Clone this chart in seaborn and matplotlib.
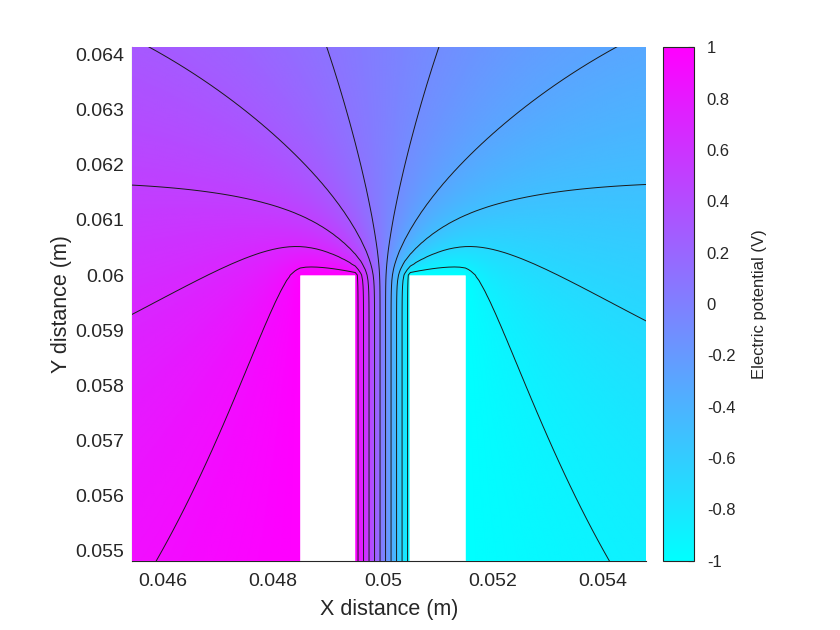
import numpy as np
import matplotlib
matplotlib.use("Agg")
import matplotlib.pyplot as plt
import seaborn as sns

# ---- data: electrode geometry, boundary values, contour levels, ticks ----
left_electrode_x = [0.0485, 0.0495]     # m, held at +1 V
right_electrode_x = [0.0505, 0.0515]    # m, held at -1 V
electrode_top_y = 0.060
electrode_voltages = [1.0, -1.0]
domain_x = [0.038, 0.062]               # side walls insulated
domain_y = [0.0, 0.074]                 # bottom insulated, top edge at 0 V
view_x = [0.04545, 0.05478]
view_y = [0.05482, 0.06413]
contour_levels = [-0.9, -0.7, -0.5, -0.3, -0.1, 0.1, 0.3, 0.5, 0.7, 0.9]
x_ticks = [0.046, 0.048, 0.050, 0.052, 0.054]
x_tick_labels = ["0.046", "0.048", "0.05", "0.052", "0.054"]
y_ticks = [0.055, 0.056, 0.057, 0.058, 0.059, 0.060, 0.061, 0.062, 0.063, 0.064]
y_tick_labels = ["0.055", "0.056", "0.057", "0.058", "0.059", "0.06", "0.061", "0.062", "0.063", "0.064"]
cbar_ticks = [-1, -0.8, -0.6, -0.4, -0.2, 0, 0.2, 0.4, 0.6, 0.8, 1]
cbar_tick_labels = ["-1", "-0.8", "-0.6", "-0.4", "-0.2", "0", "0.2", "0.4", "0.6", "0.8", "1"]


def axis(a, b, h):
    n = int(round((b - a) / h))
    return np.round(a + h * np.arange(n + 1), 8)


def electrodes(x, y):
    X, Y = np.meshgrid(x, y)
    fixed = np.zeros(X.shape, bool)
    val = np.zeros(X.shape)
    e = 1e-9
    for (x0, x1), v in zip([left_electrode_x, right_electrode_x], electrode_voltages):
        m = (X >= x0 - e) & (X <= x1 + e) & (Y <= electrode_top_y + e)
        fixed |= m
        val[m] = v
    return fixed, val


def sor(V, fixed, n, w, neu=()):
    ny, nx = V.shape
    I, J = np.indices((ny - 2, nx - 2))
    free = ~fixed[1:-1, 1:-1]
    ms = [(((I + J) % 2 == k) & free).astype(float) * w for k in (0, 1)]
    for _ in range(n):
        for m in ms:
            c = V[1:-1, 1:-1]
            c += m * (0.25 * (V[2:, 1:-1] + V[:-2, 1:-1] + V[1:-1, 2:] + V[1:-1, :-2]) - c)
        if "bottom" in neu:
            V[0, :] = np.where(fixed[0, :], V[0, :], V[1, :])
        if "left" in neu:
            V[:, 0] = np.where(fixed[:, 0], V[:, 0], V[:, 1])
        if "right" in neu:
            V[:, -1] = np.where(fixed[:, -1], V[:, -1], V[:, -2])
    return V


def interp2(V, x, y, xq, yq):
    fx = (xq - x[0]) / (x[1] - x[0])
    fy = (yq - y[0]) / (y[1] - y[0])
    i0 = np.clip(np.floor(fx).astype(int), 0, len(x) - 2)
    j0 = np.clip(np.floor(fy).astype(int), 0, len(y) - 2)
    tx = fx - i0
    ty = fy - j0
    return (V[j0, i0] * (1 - tx) * (1 - ty) + V[j0, i0 + 1] * tx * (1 - ty)
            + V[j0 + 1, i0] * (1 - tx) * ty + V[j0 + 1, i0 + 1] * tx * ty)


# Laplace solution: coarse over the whole box, then fine around the electrode tips
xc = axis(domain_x[0], domain_x[1], 0.0005)
yc = axis(domain_y[0], domain_y[1], 0.0005)
fc, vc = electrodes(xc, yc)
Vc = sor(vc.copy(), fc, 1500, 1.965, ("left", "right", "bottom"))

xf = axis(0.040, 0.060, 0.0001)
yf = axis(0.050, 0.070, 0.0001)
XF, YF = np.meshgrid(xf, yf)
Vf = interp2(Vc, xc, yc, XF, YF)
ff, fv = electrodes(xf, yf)
Vf[ff] = fv[ff]
Vf = sor(Vf, ff, 900, 1.95)

# smooth display grid with the electrodes left blank
xd = np.linspace(view_x[0], view_x[1], 470)
yd = np.linspace(view_y[0], view_y[1], 470)
XD, YD = np.meshgrid(xd, yd)
Vd = interp2(Vf, xf, yf, XD, YD)
inside = np.zeros(XD.shape, bool)
for a, b in [left_electrode_x, right_electrode_x]:
    inside |= (XD > a) & (XD < b) & (YD < electrode_top_y)
Vd = np.ma.masked_array(Vd, inside)

sns.set_theme(style="white")
plt.rcParams["font.family"] = ["Liberation Sans", "DejaVu Sans"]

fig = plt.figure(figsize=(8.4, 6.3), dpi=100)
ax = fig.add_axes([0.1575, 0.110, 0.6115, 0.8149])
cmap = plt.get_cmap("cool").copy()
cmap.set_bad((1, 1, 1, 0))
im = ax.imshow(Vd, extent=[xd[0], xd[-1], yd[0], yd[-1]], origin="lower", cmap=cmap,
               vmin=-1, vmax=1, interpolation="bilinear", aspect="auto", zorder=2)
ax.contour(xf, yf, Vf, levels=contour_levels, colors="k", linewidths=0.7,
           linestyles="solid", zorder=3)
ax.set_xlim(view_x)
ax.set_ylim(view_y)
for s in ["top", "right"]:
    ax.spines[s].set_visible(False)
for s in ["left", "bottom"]:
    ax.spines[s].set_color("#262626")
    ax.spines[s].set_linewidth(0.8)
    ax.spines[s].set_zorder(1)
ax.set_xticks(x_ticks)
ax.set_xticklabels(x_tick_labels)
ax.set_yticks(y_ticks)
ax.set_yticklabels(y_tick_labels)
ax.tick_params(axis="both", length=0, labelsize=14, colors="#262626")
ax.tick_params(axis="x", pad=9)
ax.tick_params(axis="y", pad=6)
ax.set_xlabel("X distance (m)", fontsize=15.5, color="#262626", labelpad=6)
ax.set_ylabel("Y distance (m)", fontsize=15.5, color="#262626", labelpad=2)

cax = fig.add_axes([0.7896, 0.110, 0.0369, 0.8149])
cb = fig.colorbar(im, cax=cax)
cb.set_ticks(cbar_ticks)
cb.set_ticklabels(cbar_tick_labels)
cb.outline.set_linewidth(0.8)
cb.outline.set_edgecolor("#262626")
cax.tick_params(direction="in", length=4, width=0.8, labelsize=12, colors="#262626", pad=9)
cb.set_label("Electric potential (V)", fontsize=12, color="#262626", labelpad=12)

fig.savefig("out.png", dpi=100)
